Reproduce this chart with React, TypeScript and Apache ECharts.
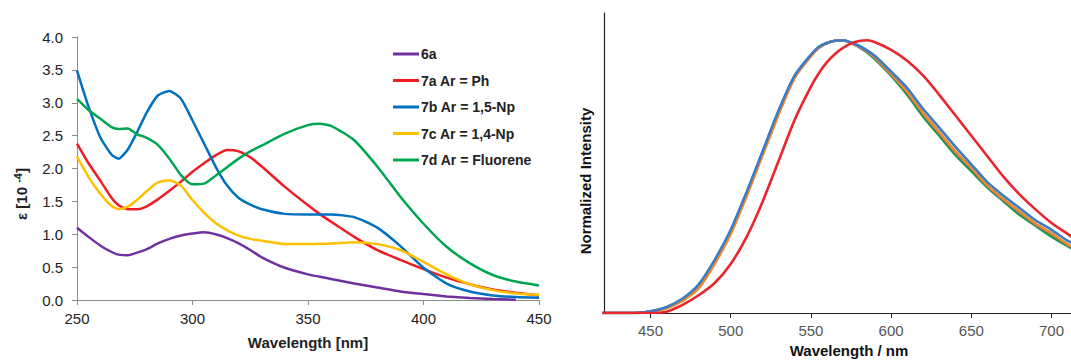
import React, { useEffect, useRef } from "react";
import * as echarts from "echarts";

// ---- Absorption (left panel) ----
const absWl = [250, 255, 260, 265, 268, 272, 276, 280, 285, 290, 295, 300, 305, 310, 315, 320, 325, 330, 340, 350, 355, 360, 370, 380, 390, 400, 410, 420, 430, 440, 450];
const abs6a = [1.10, 0.96, 0.83, 0.73, 0.69, 0.68, 0.72, 0.77, 0.86, 0.93, 0.98, 1.01, 1.03, 1.00, 0.94, 0.86, 0.76, 0.65, 0.49, 0.39, 0.355, 0.32, 0.25, 0.19, 0.13, 0.09, 0.055, 0.03, 0.015, 0.005, null];
const abs7a = [2.38, 2.08, 1.82, 1.55, 1.44, 1.38, 1.38, 1.42, 1.53, 1.66, 1.80, 1.95, 2.08, 2.20, 2.28, 2.26, 2.17, 2.03, 1.72, 1.44, 1.31, 1.19, 0.96, 0.76, 0.61, 0.47, 0.34, 0.24, 0.16, 0.11, 0.07];
const abs7b = [3.49, 2.94, 2.48, 2.21, 2.15, 2.29, 2.55, 2.84, 3.11, 3.18, 3.06, 2.73, 2.38, 2.03, 1.74, 1.55, 1.45, 1.38, 1.31, 1.30, 1.30, 1.30, 1.26, 1.10, 0.82, 0.49, 0.25, 0.13, 0.07, 0.045, 0.035];
const abs7c = [2.18, 1.87, 1.62, 1.43, 1.38, 1.42, 1.52, 1.65, 1.79, 1.82, 1.74, 1.52, 1.33, 1.17, 1.06, 0.98, 0.93, 0.90, 0.85, 0.85, 0.855, 0.86, 0.88, 0.85, 0.76, 0.58, 0.39, 0.24, 0.15, 0.10, 0.08];
const abs7d = [3.06, 2.89, 2.76, 2.63, 2.60, 2.61, 2.52, 2.47, 2.36, 2.15, 1.90, 1.76, 1.77, 1.89, 2.02, 2.15, 2.26, 2.35, 2.53, 2.66, 2.68, 2.65, 2.43, 2.03, 1.57, 1.16, 0.81, 0.56, 0.38, 0.28, 0.22];

const absNames = ["6a", "7a Ar = Ph", "7b Ar = 1,5-Np", "7c Ar = 1,4-Np", "7d Ar = Fluorene"];
const absColors = ["#7030A0", "#EE1C25", "#0070C0", "#FFC000", "#00A550"];
const xTicksLeft = [250, 300, 350, 400, 450];

// ---- Emission (right panel) ----
const emWl = [420, 430, 440, 450, 460, 470, 480, 490, 500, 510, 520, 530, 540, 550, 555, 560, 565, 570, 575, 580, 585, 590, 600, 610, 620, 630, 640, 650, 660, 670, 680, 690, 700, 710, 715];
const em7d = [0, 0, 0, 0.005, 0.02, 0.05, 0.10, 0.19, 0.30, 0.44, 0.59, 0.74, 0.87, 0.945, 0.975, 0.99, 0.998, 1.0, 0.99, 0.975, 0.955, 0.93, 0.87, 0.80, 0.72, 0.65, 0.58, 0.52, 0.46, 0.41, 0.36, 0.32, 0.28, 0.245, 0.23];
const em6a = [0, 0, 0, 0.004, 0.018, 0.046, 0.095, 0.185, 0.295, 0.435, 0.585, 0.735, 0.865, 0.943, 0.973, 0.99, 0.998, 1.0, 0.99, 0.977, 0.958, 0.935, 0.875, 0.81, 0.73, 0.66, 0.59, 0.53, 0.465, 0.415, 0.37, 0.325, 0.29, 0.25, 0.235];
const em7c = [0, 0, 0, 0.004, 0.017, 0.045, 0.09, 0.18, 0.29, 0.43, 0.58, 0.73, 0.865, 0.943, 0.973, 0.99, 0.998, 1.0, 0.99, 0.978, 0.96, 0.937, 0.877, 0.812, 0.733, 0.663, 0.593, 0.533, 0.468, 0.418, 0.372, 0.328, 0.292, 0.252, 0.237];
const em7b = [0, 0, 0, 0.006, 0.022, 0.053, 0.105, 0.195, 0.305, 0.445, 0.595, 0.745, 0.872, 0.947, 0.976, 0.99, 0.998, 1.0, 0.992, 0.98, 0.963, 0.942, 0.885, 0.825, 0.748, 0.68, 0.61, 0.545, 0.48, 0.43, 0.385, 0.34, 0.305, 0.265, 0.25];
const em7a = [0, 0, 0, 0, 0.005, 0.03, 0.065, 0.11, 0.18, 0.28, 0.41, 0.56, 0.71, 0.83, 0.88, 0.92, 0.95, 0.972, 0.988, 0.997, 1.0, 0.993, 0.965, 0.925, 0.87, 0.80, 0.725, 0.65, 0.575, 0.50, 0.435, 0.38, 0.33, 0.29, 0.27];

const emSeries = [
  { name: "7d emission", values: em7d, color: "#1E9A47" },
  { name: "6a emission", values: em6a, color: "#9060B0" },
  { name: "7c emission", values: em7c, color: "#F08A24" },
  { name: "7b emission", values: em7b, color: "#3A7CC6" },
  { name: "7a emission", values: em7a, color: "#E8262D" },
];
const xTicksRight = [450, 500, 550, 600, 650, 700];

const FONT = "Liberation Sans, Arial, Helvetica, sans-serif";

export default function App() {
  const ref = useRef<HTMLDivElement>(null);

  useEffect(() => {
    if (!ref.current) return;
    const chart = echarts.init(ref.current, null, { renderer: "svg" });
    const absData = [abs6a, abs7a, abs7b, abs7c, abs7d];

    const series: any[] = absData.map((vals, i) => ({
      name: absNames[i],
      type: "line",
      xAxisIndex: 0,
      yAxisIndex: 0,
      data: absWl.map((w, j) => [w, vals[j]]),
      showSymbol: false,
      smooth: 0.2,
      connectNulls: false,
      lineStyle: { width: 2.5, color: absColors[i] },
      itemStyle: { color: absColors[i] },
      z: 2 + i,
    }));

    emSeries.forEach((s, i) => {
      series.push({
        name: s.name,
        type: "line",
        xAxisIndex: 1,
        yAxisIndex: 1,
        data: emWl.map((w, j) => [w, s.values[j]]),
        showSymbol: false,
        smooth: 0.25,
        lineStyle: { width: 2.6, color: s.color },
        itemStyle: { color: s.color },
        z: 2 + i,
      });
    });

    chart.setOption({
      animation: false,
      backgroundColor: "#ffffff",
      textStyle: { fontFamily: FONT },
      legend: {
        data: absNames,
        orient: "vertical",
        left: 388,
        top: 42,
        itemWidth: 26,
        itemHeight: 3,
        itemGap: 12.5,
        icon: "rect",
        selectedMode: false,
        textStyle: { fontFamily: FONT, fontSize: 14, fontWeight: "bold", color: "#222", padding: [0, 0, 0, -3] },
      },
      grid: [
        { left: 77, top: 37, width: 462, height: 263, outerBoundsMode: "none", containLabel: false },
        { left: 604, top: 13, width: 470, height: 300, outerBoundsMode: "none", containLabel: false },
      ],
      xAxis: [
        {
          gridIndex: 0,
          type: "value",
          min: 250,
          max: 450,
          interval: 50,
          axisLine: { show: true, lineStyle: { color: "#8c8c8c", width: 1 } },
          axisTick: { show: true, length: 5, inside: false, lineStyle: { color: "#8c8c8c" } },
          axisLabel: { show: true, margin: 11, fontSize: 15, color: "#222", fontFamily: FONT, customValues: xTicksLeft },
          splitLine: { show: false },
        },
        {
          gridIndex: 1,
          type: "value",
          min: 421,
          max: 714,
          axisLine: { show: true, lineStyle: { color: "#222", width: 1.2 } },
          axisTick: { show: true, length: 5, inside: false, lineStyle: { color: "#222" }, customValues: xTicksRight },
          axisLabel: { show: true, margin: 10, fontSize: 15, color: "#555", fontFamily: FONT, customValues: xTicksRight },
          splitLine: { show: false },
        },
      ],
      yAxis: [
        {
          gridIndex: 0,
          type: "value",
          min: 0,
          max: 4,
          interval: 0.5,
          axisLine: { show: true, lineStyle: { color: "#8c8c8c", width: 1 } },
          axisTick: { show: true, length: 5, inside: false, lineStyle: { color: "#8c8c8c" } },
          axisLabel: { show: true, margin: 14, fontSize: 15, color: "#222", fontFamily: FONT, formatter: (v: number) => v.toFixed(1) },
          splitLine: { show: false },
        },
        {
          gridIndex: 1,
          type: "value",
          min: 0,
          max: 1.1,
          axisLine: { show: true, lineStyle: { color: "#222", width: 1.2 } },
          axisTick: { show: false },
          axisLabel: { show: false },
          splitLine: { show: false },
        },
      ],
      graphic: [
        {
          type: "text",
          x: 21,
          y: 194,
          rotation: Math.PI / 2,
          style: {
            text: "ε [10 {s|-4}]",
            fontFamily: FONT,
            fontSize: 15,
            fontWeight: "bold",
            fill: "#222",
            align: "center",
            verticalAlign: "middle",
            rich: {
              s: { fontSize: 11, fontWeight: "bold", fontFamily: FONT, fill: "#222", padding: [0, 0, 7, 0] },
            },
          },
        },
        {
          type: "text",
          x: 308,
          y: 342,
          style: { text: "Wavelength [nm]", fontFamily: FONT, fontSize: 15, fontWeight: "bold", fill: "#222", align: "center", verticalAlign: "middle" },
        },
        {
          type: "text",
          x: 585,
          y: 181,
          rotation: Math.PI / 2,
          style: { text: "Normalized Intensity", fontFamily: FONT, fontSize: 15, fontWeight: "bold", fill: "#111", align: "center", verticalAlign: "middle" },
        },
        {
          type: "text",
          x: 849,
          y: 350,
          style: { text: "Wavelength / nm", fontFamily: FONT, fontSize: 15, fontWeight: "bold", fill: "#111", align: "center", verticalAlign: "middle" },
        },
      ],
      series,
    });

    return () => chart.dispose();
  }, []);

  return <div ref={ref} style={{ position: "fixed", left: 0, top: 0, width: 1071, height: 361 }} />;
}
